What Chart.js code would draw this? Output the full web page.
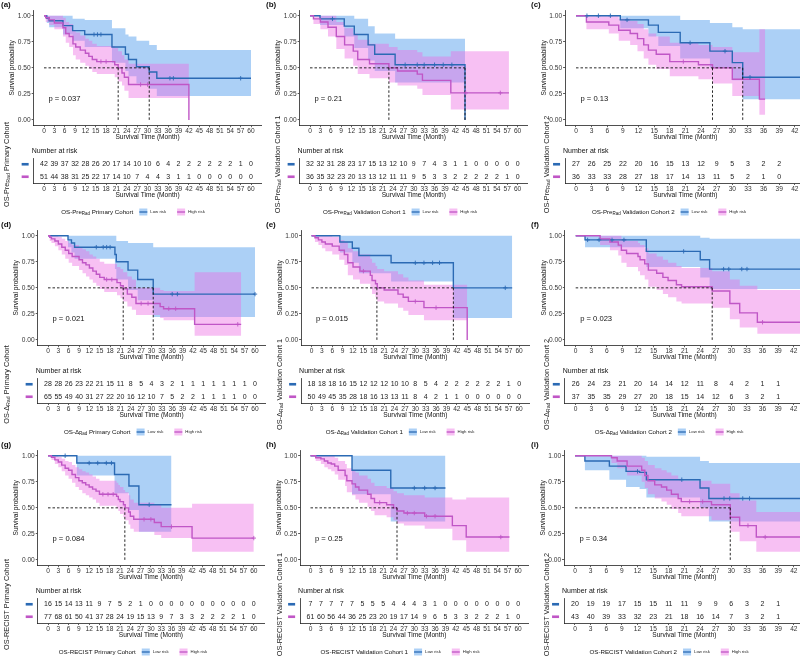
<!DOCTYPE html>
<html><head><meta charset="utf-8">
<script src="https://cdn.jsdelivr.net/npm/chart.js@4.4.1/dist/chart.umd.min.js"></script>
<style>
html,body{margin:0;padding:0;background:#fff;}
#wrap{position:relative;width:800px;height:660px;overflow:hidden;background:#fff;}
canvas{position:absolute;}
</style></head><body><div id="wrap"></div>
<script>
// ---------------- DATA ----------------
const TICKS_60 = [0,3,6,9,12,15,18,21,24,27,30,33,36,39,42,45,48,51,54,57,60];
const TICKS_42 = [0,3,6,9,12,15,18,21,24,27,30,33,36,39,42];
const Y_TICKS = [0,0.25,0.5,0.75,1];
const GROUPS = ['Low risk','High risk'];

// rows: [time, survival, lower CI, upper CI]
const A_LOW = [[0,1,1,1],[0.8,0.976,0.93,1],[1.5,0.952,0.89,1],[5.5,0.905,0.82,1],[8.3,0.857,0.76,0.97],[11.8,0.82,0.70,0.96],[19.7,0.70,0.55,0.88],[23.6,0.63,0.47,0.82],[24.5,0.58,0.42,0.80],[26.8,0.51,0.35,0.76],[30.5,0.46,0.30,0.72],[32.7,0.40,0.23,0.67],[60,0.40,0.23,0.67]];
const A_HIGH = [[0,1,1,1],[0.5,0.98,0.94,1],[1.5,0.96,0.91,1],[3,0.93,0.87,1],[5.5,0.885,0.80,0.98],[6.3,0.83,0.74,0.94],[7.3,0.80,0.70,0.92],[8.4,0.73,0.62,0.86],[9.2,0.70,0.58,0.84],[10.5,0.67,0.55,0.81],[12,0.64,0.52,0.78],[13,0.61,0.49,0.76],[14,0.58,0.46,0.73],[15.3,0.56,0.44,0.71],[20.5,0.53,0.41,0.69],[21.5,0.50,0.37,0.66],[22.6,0.45,0.33,0.62],[23.3,0.41,0.28,0.58],[24.5,0.34,0.21,0.54],[42,0.34,0.21,0.54],[42,0,null,null]];
const A_LOW_CENS = [14.5,15.5,16.5,36.5,37.5,57];
const A_HIGH_CENS = [16.5,18,28,30];
const A_MED = [21.5,30.5];
const A_P = 'p = 0.037';
const A_RISK_LOW = [42,39,37,32,28,26,20,17,14,10,10,6,4,2,2,2,2,2,2,1,0];
const A_RISK_HIGH = [51,44,38,31,25,22,17,14,10,7,4,4,3,1,1,0,0,0,0,0,0];
const A_NAME = ['OS-Pre','Rad',' Primary Cohort'];

const B_LOW = [[0,1,1,1],[2.9,0.97,0.91,1],[9.9,0.90,0.80,1],[12.8,0.82,0.69,0.97],[16.8,0.72,0.57,0.90],[18.7,0.63,0.47,0.83],[24.6,0.53,0.36,0.78],[44.8,0.53,0.36,0.78],[44.8,0,null,null]];
const B_HIGH = [[0,1,1,1],[1,0.97,0.92,1],[3,0.94,0.87,1],[5.2,0.89,0.80,1],[7.6,0.80,0.68,0.94],[10,0.72,0.59,0.88],[12.5,0.66,0.52,0.83],[13.8,0.58,0.44,0.77],[17.2,0.54,0.40,0.73],[22.8,0.50,0.36,0.70],[25.3,0.47,0.33,0.67],[31,0.44,0.30,0.65],[32.5,0.38,0.24,0.61],[40.7,0.26,0.10,0.66],[57.5,0.26,0.10,0.66]];
const B_LOW_CENS = [6.5,27.5,31,33,36,38.5,41];
const B_HIGH_CENS = [45,55];
const B_MED = [22.8,44.8];
const B_P = 'p = 0.21';
const B_RISK_LOW = [32,32,31,28,23,17,15,13,12,10,9,7,4,3,1,1,0,0,0,0,0];
const B_RISK_HIGH = [36,35,32,23,20,13,13,12,11,11,9,5,3,3,2,2,2,2,2,1,0];
const B_NAME = ['OS-Pre','Rad',' Validation Cohort 1'];

const C_LOW = [[0,1,1,1],[8.5,0.96,0.88,1],[13.9,0.91,0.80,1],[15.8,0.84,0.71,1],[20,0.74,0.59,0.96],[25.7,0.66,0.50,0.93],[30,0.55,0.38,0.89],[32,0.41,0.20,0.87],[44,0.41,0.20,0.87]];
const C_HIGH = [[0,1,1,1],[2,0.94,0.87,1],[6.3,0.91,0.83,1],[8.2,0.86,0.76,0.97],[10.4,0.83,0.72,0.95],[11.8,0.78,0.66,0.92],[13,0.72,0.59,0.87],[13.9,0.67,0.53,0.83],[15.4,0.63,0.49,0.80],[18,0.56,0.42,0.74],[23.5,0.53,0.39,0.72],[26.2,0.50,0.35,0.70],[30,0.39,0.23,0.65],[35.2,0.20,0.05,0.87],[36.3,0.20,0.05,0.87]];
const C_LOW_CENS = [2.1,4.3,6.6,9.8,21.9,28.6,33.4];
const C_HIGH_CENS = [20.6];
const C_MED = [26.2,32];
const C_P = 'p = 0.13';
const C_RISK_LOW = [27,26,25,22,20,16,15,13,12,9,5,3,2,2];
const C_RISK_HIGH = [36,33,33,28,27,18,17,14,13,11,5,2,1,0];
const C_NAME = ['OS-Pre','Rad',' Validation Cohort 2'];

const D_LOW = [[0,1,1,1],[5.8,0.96,0.89,1],[6.8,0.93,0.84,1],[7.7,0.89,0.78,1],[19.4,0.82,0.68,1],[19.8,0.75,0.58,0.95],[23.2,0.67,0.48,0.93],[26,0.58,0.38,0.93],[30.5,0.44,0.22,0.89],[60,0.44,0.22,0.89]];
const D_HIGH = [[0,1,1,1],[0.5,0.985,0.95,1],[1,0.97,0.93,1],[2,0.95,0.90,1],[3,0.92,0.86,0.99],[4,0.89,0.82,0.97],[5,0.86,0.78,0.95],[6,0.83,0.74,0.93],[7,0.80,0.71,0.91],[9,0.77,0.67,0.89],[10,0.74,0.64,0.87],[11,0.72,0.61,0.85],[12,0.69,0.58,0.82],[13,0.66,0.55,0.80],[14,0.63,0.52,0.78],[15,0.60,0.49,0.75],[16.3,0.58,0.46,0.73],[20,0.55,0.43,0.70],[21,0.52,0.40,0.68],[21.8,0.49,0.37,0.65],[23,0.44,0.32,0.61],[24.3,0.41,0.29,0.58],[25.5,0.35,0.24,0.50],[32.5,0.32,0.21,0.48],[33.5,0.30,0.19,0.47],[42.5,0.15,0.04,0.65],[56,0.15,0.04,0.65]];
const D_LOW_CENS = [14,16,17,18,36,37.5,60];
const D_HIGH_CENS = [17,18.5,27,29,35,37,55];
const D_MED = [21.8,30.5];
const D_P = 'p = 0.021';
const D_RISK_LOW = [28,28,26,23,22,21,15,11,8,5,4,3,2,1,1,1,1,1,1,1,0];
const D_RISK_HIGH = [65,55,49,40,31,27,22,20,16,12,10,7,5,2,2,1,1,1,1,0,0];
const D_NAME = ['OS-\u0394','Rad',' Primary Cohort'];

const E_LOW = [[0,1,1,1],[8.2,0.94,0.84,1],[11.8,0.88,0.74,1],[13.7,0.81,0.64,1],[23,0.74,0.56,1],[41,0.50,0.21,1],[58,0.50,0.21,1]];
const E_HIGH = [[0,1,1,1],[1,0.98,0.94,1],[2,0.96,0.91,1],[3,0.94,0.88,1],[4,0.92,0.85,1],[6,0.90,0.82,0.99],[8,0.86,0.77,0.96],[9.5,0.82,0.72,0.94],[10.5,0.74,0.62,0.88],[12,0.70,0.58,0.85],[14,0.66,0.54,0.82],[17,0.62,0.49,0.78],[17.5,0.57,0.44,0.74],[18.5,0.54,0.41,0.71],[19,0.50,0.37,0.68],[21,0.48,0.35,0.66],[25,0.44,0.31,0.63],[26.5,0.41,0.28,0.60],[28,0.37,0.24,0.57],[32.5,0.31,0.19,0.53],[45,0.31,0.19,0.53],[45,0,null,null]];
const E_LOW_CENS = [30,32.5,35,37,56];
const E_HIGH_CENS = [15,30,36];
const E_MED = [18.9,41];
const E_P = 'p = 0.015';
const E_RISK_LOW = [18,18,18,16,15,12,12,12,10,10,8,5,4,2,2,2,2,2,2,1,0];
const E_RISK_HIGH = [50,49,45,35,28,18,16,13,13,11,8,4,2,1,1,0,0,0,0,0,0];
const E_NAME = ['OS-\u0394','Rad',' Validation Cohort 1'];

const F_LOW = [[0,1,1,1],[1.8,0.96,0.89,1],[13.6,0.85,0.70,1],[24,0.77,0.60,0.98],[25.8,0.68,0.49,0.97],[44,0.68,0.49,0.97]];
const F_HIGH = [[0,1,1,1],[4.7,0.97,0.91,1],[6.6,0.94,0.86,1],[8.2,0.91,0.81,1],[8.8,0.86,0.74,0.97],[9.8,0.83,0.70,0.95],[12,0.80,0.66,0.93],[12.4,0.77,0.62,0.91],[13.3,0.73,0.58,0.88],[14,0.67,0.51,0.83],[15.6,0.64,0.48,0.80],[16.8,0.60,0.44,0.77],[17.8,0.57,0.41,0.74],[19.4,0.53,0.37,0.71],[20.4,0.51,0.35,0.69],[26.3,0.47,0.31,0.66],[29.7,0.35,0.20,0.58],[31.6,0.26,0.12,0.52],[35,0.17,0.06,0.48],[44,0.17,0.06,0.48]];
const F_LOW_CENS = [2.3,4.5,7,9.3,20.8,28.5,29.5,32,33];
const F_HIGH_CENS = [36];
const F_MED = [26.3];
const F_P = 'p = 0.023';
const F_RISK_LOW = [26,24,23,21,20,14,14,12,11,8,4,2,1,1];
const F_RISK_HIGH = [37,35,35,29,27,20,18,15,14,12,6,3,2,1];
const F_NAME = ['OS-\u0394','Rad',' Validation Cohort 2'];

const G_LOW = [[0,1,1,1],[8.4,0.93,0.81,1],[19.4,0.82,0.64,1],[23.6,0.71,0.48,1],[26.5,0.53,0.27,1],[36,0.53,0.27,1]];
const G_HIGH = [[0,1,1,1],[1,0.985,0.96,1],[2,0.96,0.92,1],[3,0.94,0.89,0.99],[4,0.91,0.85,0.97],[5,0.88,0.81,0.95],[6,0.86,0.78,0.94],[7,0.82,0.74,0.91],[8,0.79,0.70,0.89],[9,0.76,0.67,0.87],[10,0.74,0.64,0.85],[11,0.72,0.62,0.84],[12,0.70,0.60,0.82],[13,0.68,0.58,0.80],[14,0.66,0.55,0.78],[15,0.63,0.52,0.76],[20,0.61,0.50,0.74],[20.5,0.58,0.47,0.72],[21,0.56,0.44,0.70],[22,0.53,0.41,0.67],[22.5,0.50,0.38,0.65],[23.5,0.46,0.34,0.62],[24,0.42,0.30,0.58],[25,0.39,0.27,0.55],[31,0.36,0.24,0.53],[33,0.32,0.21,0.50],[42,0.21,0.08,0.54],[60,0.21,0.08,0.54]];
const G_LOW_CENS = [5,12,14.5,17,18.5,29.5];
const G_HIGH_CENS = [16,17.5,19,28,30,36,60];
const G_MED = [22.4];
const G_P = 'p = 0.084';
const G_RISK_LOW = [16,15,14,13,11,9,7,5,2,1,0,0,0,0,0,0,0,0,0,0,0];
const G_RISK_HIGH = [77,68,61,50,41,37,28,24,19,15,13,9,7,3,3,2,2,2,2,1,0];
const G_NAME = ['OS-RECIST','',' Primary Cohort'];

const H_LOW = [[0,1,1,1],[12,0.86,0.63,1],[23.2,0.69,0.37,1],[39,0.69,0.37,1]];
const H_HIGH = [[0,1,1,1],[1.5,0.98,0.95,1],[3,0.97,0.92,1],[4,0.95,0.89,1],[5,0.93,0.87,1],[6,0.92,0.85,1],[7,0.90,0.82,0.98],[8,0.86,0.77,0.95],[10,0.81,0.71,0.92],[10.5,0.76,0.65,0.88],[12,0.73,0.62,0.86],[13,0.70,0.58,0.84],[14,0.67,0.55,0.81],[16.5,0.63,0.51,0.78],[17.5,0.59,0.47,0.74],[18.5,0.55,0.43,0.71],[22,0.53,0.41,0.69],[24,0.50,0.38,0.66],[25,0.47,0.35,0.64],[27,0.45,0.33,0.62],[33,0.42,0.30,0.60],[41,0.33,0.19,0.58],[45,0.22,0.08,0.60],[57.5,0.22,0.08,0.60]];
const H_LOW_CENS = [30,33,36];
const H_HIGH_CENS = [20,28,30,33.5,36,55];
const H_MED = [25];
const H_P = 'p = 0.25';
const H_RISK_LOW = [7,7,7,7,7,5,5,5,4,4,4,3,1,0,0,0,0,0,0,0,0];
const H_RISK_HIGH = [61,60,56,44,36,25,23,20,19,17,14,9,6,5,3,3,2,2,2,1,0];
const H_NAME = ['OS-RECIST','',' Validation Cohort 1'];

const I_LOW = [[0,1,1,1],[1.9,0.95,0.86,1],[6.6,0.90,0.77,1],[9.8,0.85,0.70,1],[12.4,0.84,0.68,1],[13.7,0.77,0.60,0.99],[24,0.69,0.50,0.95],[25.7,0.59,0.37,0.93],[44,0.59,0.37,0.93]];
const I_HIGH = [[0,1,1,1],[7,0.98,0.93,1],[8.1,0.95,0.88,1],[10,0.90,0.81,1],[12.8,0.86,0.75,0.98],[13.4,0.81,0.69,0.95],[14,0.76,0.63,0.91],[15.3,0.72,0.59,0.88],[16.6,0.70,0.56,0.86],[17.6,0.67,0.53,0.84],[18.5,0.63,0.49,0.81],[19.8,0.59,0.45,0.78],[20.4,0.56,0.42,0.76],[26.2,0.53,0.38,0.73],[29.8,0.41,0.27,0.64],[31.6,0.33,0.18,0.57],[34.8,0.22,0.08,0.46],[44,0.22,0.08,0.46]];
const I_LOW_CENS = [12,20.5,28.6,29.7,32.2,33.5];
const I_HIGH_CENS = [22,24.5,33.2,36.5];
const I_MED = [29.8];
const I_P = 'p = 0.34';
const I_RISK_LOW = [20,19,19,17,15,15,11,11,9,9,6,3,2,1];
const I_RISK_HIGH = [43,40,39,33,32,23,21,18,16,14,7,3,2,1];
const I_NAME = ['OS-RECIST','',' Validation Cohort 2'];

// ---------------- STYLE / LAYOUT ----------------
const FONT = '"Liberation Sans", Arial, Helvetica, sans-serif';
const BLUE = '#2B6AB4', PINK = '#C056C6';
const BLUE_FILL = 'rgba(70,150,235,0.45)', PINK_FILL = 'rgba(236,105,226,0.42)';
const AXIS = '#222', TICKC = '#333';

const PANELS = [
 {tag:'(a)',px:0,  py:0,  x0:44,   k:3.45, ticks:TICKS_60, rotX:7,  legC:133, low:A_LOW,high:A_HIGH,lc:A_LOW_CENS,hc:A_HIGH_CENS,med:A_MED,p:A_P,rl:A_RISK_LOW,rh:A_RISK_HIGH,name:A_NAME},
 {tag:'(b)',px:265,py:0,  x0:310,  k:3.46, ticks:TICKS_60, rotX:13, legC:135, low:B_LOW,high:B_HIGH,lc:B_LOW_CENS,hc:B_HIGH_CENS,med:B_MED,p:B_P,rl:B_RISK_LOW,rh:B_RISK_HIGH,name:B_NAME},
 {tag:'(c)',px:530,py:0,  x0:576,  k:5.21, ticks:TICKS_42, rotX:17, legC:139, low:C_LOW,high:C_HIGH,lc:C_LOW_CENS,hc:C_HIGH_CENS,med:C_MED,p:C_P,rl:C_RISK_LOW,rh:C_RISK_HIGH,name:C_NAME},
 {tag:'(d)',px:0,  py:220,x0:48,   k:3.45, ticks:TICKS_60, rotX:7,  legC:133, low:D_LOW,high:D_HIGH,lc:D_LOW_CENS,hc:D_HIGH_CENS,med:D_MED,p:D_P,rl:D_RISK_LOW,rh:D_RISK_HIGH,name:D_NAME},
 {tag:'(e)',px:265,py:220,x0:311.5,k:3.46, ticks:TICKS_60, rotX:15, legC:135, low:E_LOW,high:E_HIGH,lc:E_LOW_CENS,hc:E_HIGH_CENS,med:E_MED,p:E_P,rl:E_RISK_LOW,rh:E_RISK_HIGH,name:E_NAME},
 {tag:'(f)',px:530,py:220,x0:575.7,k:5.19, ticks:TICKS_42, rotX:17, legC:139, low:F_LOW,high:F_HIGH,lc:F_LOW_CENS,hc:F_HIGH_CENS,med:F_MED,p:F_P,rl:F_RISK_LOW,rh:F_RISK_HIGH,name:F_NAME},
 {tag:'(g)',px:0,  py:440,x0:48,   k:3.43, ticks:TICKS_60, rotX:7,  legC:133, low:G_LOW,high:G_HIGH,lc:G_LOW_CENS,hc:G_HIGH_CENS,med:G_MED,p:G_P,rl:G_RISK_LOW,rh:G_RISK_HIGH,name:G_NAME},
 {tag:'(h)',px:265,py:440,x0:310.5,k:3.46, ticks:TICKS_60, rotX:15, legC:135, low:H_LOW,high:H_HIGH,lc:H_LOW_CENS,hc:H_HIGH_CENS,med:H_MED,p:H_P,rl:H_RISK_LOW,rh:H_RISK_HIGH,name:H_NAME},
 {tag:'(i)',px:530,py:440,x0:575,  k:5.21, ticks:TICKS_42, rotX:17, legC:139, low:I_LOW,high:I_HIGH,lc:I_LOW_CENS,hc:I_HIGH_CENS,med:I_MED,p:I_P,rl:I_RISK_LOW,rh:I_RISK_HIGH,name:I_NAME}
];

Chart.defaults.font.family = FONT;
const wrap = document.getElementById('wrap');

function pts(rows){ return rows.map(r=>({x:r[0],y:r[1]})); }
function ci(rows,idx){ return rows.filter(r=>r[2]!=null).map(r=>({x:r[0],y:r[idx]})); }
function survAt(rows,t){ let v=1; for(const r of rows){ if(r[0]<=t && r[2]!=null) v=r[1]; } return v; }

function richWidth(ctx,parts,size){
  let w=0;
  parts.forEach((t,i)=>{ ctx.font=(i===1?size*0.72:size)+'px '+FONT; w+=ctx.measureText(t).width; });
  return w;
}
function drawRich(ctx,parts,x,y,size,align){
  const tot=richWidth(ctx,parts,size);
  let cx = align==='center' ? x-tot/2 : x;
  ctx.textAlign='left'; ctx.textBaseline='middle';
  parts.forEach((t,i)=>{
    const s = i===1?size*0.72:size;
    ctx.font=s+'px '+FONT;
    ctx.fillText(t,cx, i===1 ? y+size*0.28 : y);
    cx+=ctx.measureText(t).width;
  });
  return tot;
}

function makeCanvas(x,y,w,h){
  const c=document.createElement('canvas');
  c.width=w; c.height=h; c.style.left=x+'px'; c.style.top=y+'px';
  c.style.width=w+'px'; c.style.height=h+'px';
  wrap.appendChild(c); return c;
}

function xScaleOpts(P,xmax){
  return {
    type:'linear', min:-0.05*xmax, max:1.05*xmax,
    afterBuildTicks:s=>{ s.ticks=P.ticks.map(v=>({value:v})); },
    afterFit:s=>{ s.height=16; },
    ticks:{ font:{size:6.6,family:FONT}, color:TICKC, padding:0, maxRotation:0, minRotation:0, autoSkip:false, callback:v=>String(v) },
    grid:{ display:true, drawOnChartArea:false, drawTicks:true, tickLength:2, tickColor:TICKC, tickWidth:0.8 },
    border:{ display:true, color:AXIS, width:0.8 },
    title:{ display:true, text:'Survival Time (Month)', font:{size:6.6,family:FONT}, color:'#111', padding:0 }
  };
}

PANELS.forEach(P=>{
  const xmax = P.ticks[P.ticks.length-1];
  const left = P.x0 - 0.05*xmax*P.k;
  const right = P.x0 + 1.05*xmax*P.k;
  const W = Math.ceil(right - P.px) + 2;
  const yW = left - P.px;

  // ---------- KM plot ----------
  const H1 = 145, top1 = 10.5, bot1 = 125.2;
  const c1 = makeCanvas(P.px, P.py, W, H1);
  const ds = [
    {data:ci(P.high,3), stepped:true, borderColor:'rgba(0,0,0,0)', borderWidth:0, pointRadius:0, fill:'+1', backgroundColor:PINK_FILL, order:3},
    {data:ci(P.high,2), stepped:true, borderColor:'rgba(0,0,0,0)', borderWidth:0, pointRadius:0, fill:false, order:3},
    {data:ci(P.low,3), stepped:true, borderColor:'rgba(0,0,0,0)', borderWidth:0, pointRadius:0, fill:'+1', backgroundColor:BLUE_FILL, order:4},
    {data:ci(P.low,2), stepped:true, borderColor:'rgba(0,0,0,0)', borderWidth:0, pointRadius:0, fill:false, order:4},
    {data:pts(P.low), stepped:true, borderColor:BLUE, borderWidth:1.4, pointRadius:0, fill:false, order:2},
    {data:pts(P.high), stepped:true, borderColor:PINK, borderWidth:1.4, pointRadius:0, fill:false, order:1},
    {data:P.lc.map(t=>({x:t,y:survAt(P.low,t)})), showLine:false, pointStyle:'cross', pointRadius:2.2, pointBorderWidth:0.9, borderColor:BLUE, pointBorderColor:BLUE, order:0},
    {data:P.hc.map(t=>({x:t,y:survAt(P.high,t)})), showLine:false, pointStyle:'cross', pointRadius:2.2, pointBorderWidth:0.9, borderColor:PINK, pointBorderColor:PINK, order:0}
  ];
  const mMax = Math.max(...P.med);
  ds.push({data:[{x:0,y:0.5},{x:mMax,y:0.5}], borderColor:'#111', borderWidth:0.9, borderDash:[2.5,2], pointRadius:0, fill:false, order:0});
  P.med.forEach(m=>ds.push({data:[{x:m,y:0.5},{x:m,y:0}], borderColor:'#111', borderWidth:0.9, borderDash:[2.5,2], pointRadius:0, fill:false, order:0}));

  new Chart(c1,{
    type:'line',
    data:{datasets:ds},
    options:{
      responsive:false, animation:false, events:[],
      layout:{autoPadding:false, padding:{left:0, top:top1, right:W-(right-P.px), bottom:H1-(bot1+16)}},
      plugins:{legend:{display:false}, tooltip:{enabled:false}, title:{display:false}},
      scales:{
        x:xScaleOpts(P,xmax),
        y:{
          min:-0.05, max:1.05,
          afterBuildTicks:s=>{ s.ticks=Y_TICKS.map(v=>({value:v})); },
          afterFit:s=>{ s.width=yW; },
          ticks:{ font:{size:6.6,family:FONT}, color:TICKC, padding:1, callback:v=>Number(v).toFixed(2) },
          grid:{ display:true, drawOnChartArea:false, drawTicks:true, tickLength:2, tickColor:TICKC, tickWidth:0.8 },
          border:{ display:true, color:AXIS, width:0.8 },
          title:{ display:true, text:'Survival probability', font:{size:6.6,family:FONT}, color:'#111', padding:{top:Math.max(0,yW-21-4),bottom:0} }
        }
      }
    },
    plugins:[{id:'kmText', afterDraw(chart){
      const ctx=chart.ctx, xs=chart.scales.x, ys=chart.scales.y;
      ctx.save();
      ctx.fillStyle='#111'; ctx.textAlign='left'; ctx.textBaseline='middle';
      ctx.font='7.6px '+FONT;
      ctx.fillText(P.p, xs.getPixelForValue(0)+4.5, ys.getPixelForValue(0.2));
      ctx.font='bold 8px '+FONT;
      ctx.fillText(P.tag, 1, 5);
      ctx.restore();
    }}]
  });

  // ---------- risk table ----------
  const T0 = 105, H2 = 115, top2 = 53, bot2 = 78;
  const c2 = makeCanvas(P.px, P.py+T0, W, H2);
  new Chart(c2,{
    type:'line',
    data:{datasets:[]},
    options:{
      responsive:false, animation:false, events:[],
      layout:{autoPadding:false, padding:{left:0, top:top2, right:W-(right-P.px), bottom:H2-(bot2+16)}},
      plugins:{legend:{display:false}, tooltip:{enabled:false}},
      scales:{
        x:xScaleOpts(P,xmax),
        y:{ type:'category', labels:['low','high'], offset:true,
            afterFit:s=>{ s.width=yW; },
            ticks:{display:false}, grid:{display:false},
            border:{display:true, color:AXIS, width:0.8} }
      }
    },
    plugins:[{id:'riskText', afterDraw(chart){
      const ctx=chart.ctx, xs=chart.scales.x, ys=chart.scales.y, ca=chart.chartArea;
      ctx.save();
      ctx.fillStyle='#1a1a1a'; ctx.font='7px '+FONT; ctx.textAlign='center'; ctx.textBaseline='middle';
      P.rl.forEach((v,i)=>ctx.fillText(String(v), xs.getPixelForValue(P.ticks[i]), ys.getPixelForValue(0)));
      P.rh.forEach((v,i)=>ctx.fillText(String(v), xs.getPixelForValue(P.ticks[i]), ys.getPixelForValue(1)));
      ctx.fillStyle=BLUE; ctx.fillRect(ca.left-12, ys.getPixelForValue(0)-1.3, 7, 2.6);
      ctx.fillStyle=PINK; ctx.fillRect(ca.left-12, ys.getPixelForValue(1)-1.3, 7, 2.6);
      ctx.fillStyle='#111'; ctx.font='7px '+FONT; ctx.textAlign='left'; ctx.textBaseline='middle';
      ctx.fillText('Number at risk', ca.left-2, ca.top-7);
      ctx.save();
      ctx.translate(P.rotX, (ca.top+ca.bottom)/2 - 6);
      ctx.rotate(-Math.PI/2);
      ctx.fillStyle='#222';
      drawRich(ctx,P.name,0,0,7.3,'center');
      ctx.restore();
      const ly = 107;
      const tW = richWidth(ctx,P.name,6.2);
      ctx.font='4.3px '+FONT;
      const w1 = ctx.measureText(GROUPS[0]).width, w2 = ctx.measureText(GROUPS[1]).width;
      const total = tW + 6 + 8 + 3 + w1 + 11 + 8 + 3 + w2;
      let x = P.legC - total/2;
      ctx.fillStyle='#111';
      drawRich(ctx,P.name,x,ly,6.2,'left');
      x += tW + 6;
      [[BLUE_FILL,BLUE,GROUPS[0],w1],[PINK_FILL,PINK,GROUPS[1],w2]].forEach(([f,c,lab,w])=>{
        ctx.fillStyle=f; ctx.fillRect(x, ly-3.5, 8, 7);
        ctx.strokeStyle=c; ctx.lineWidth=1.3; ctx.beginPath(); ctx.moveTo(x,ly); ctx.lineTo(x+8,ly); ctx.stroke();
        x += 11;
        ctx.fillStyle='#222'; ctx.font='4.3px '+FONT; ctx.textAlign='left'; ctx.textBaseline='middle';
        ctx.fillText(lab, x, ly);
        x += w + 11;
      });
      ctx.restore();
    }}]
  });
});
</script>
</body></html>
